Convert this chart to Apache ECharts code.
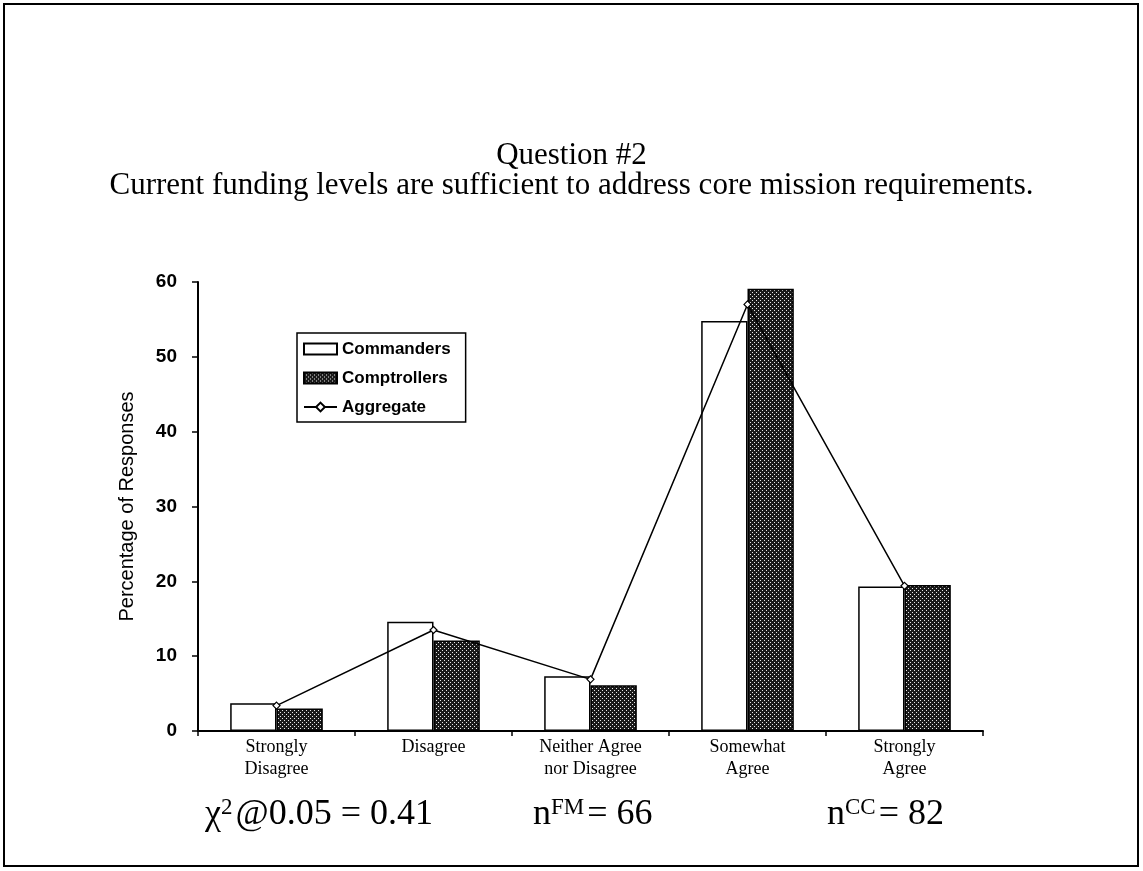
<!DOCTYPE html>
<html>
<head>
<meta charset="utf-8">
<script src="https://cdn.jsdelivr.net/npm/echarts@6/dist/echarts.min.js"></script>
<style>
  html, body { margin: 0; padding: 0; background: #fff; }
  #chart { width: 1143px; height: 871px; }
</style>
</head>
<body>
<div id="chart"></div>
<script>
const categories   = ['Strongly\nDisagree', 'Disagree', 'Neither Agree\nnor Disagree', 'Somewhat\nAgree', 'Strongly\nAgree']
const commanders   = [3.7, 14.6, 7.3, 54.8, 19.3]
const comptrollers = [3.0, 12.1, 6.1, 59.1, 19.5]
const aggregate    = [3.4, 13.5, 6.9, 57.0, 19.4]
const yTicks       = [0, 10, 20, 30, 40, 50, 60]

// dotted dark fill for the comptrollers bars
function makePattern() {
  const c = document.createElement('canvas')
  c.width = 4; c.height = 4
  const ctx = c.getContext('2d')
  ctx.fillStyle = '#1a1a1a'
  ctx.fillRect(0, 0, 4, 4)
  ctx.fillStyle = '#e8e8e8'
  ctx.fillRect(0, 0, 1, 1)
  ctx.fillRect(2, 2, 1, 1)
  return c
}
const pattern = { image: makePattern(), repeat: 'repeat' }

const serif = 'Liberation Serif, Times New Roman, serif'
const sans  = 'Liberation Sans, Arial, sans-serif'
const stat = {
  t: { fontFamily: serif, fontSize: 36, lineHeight: 40, fill: '#000' },
  s: { fontFamily: serif, fontSize: 23, lineHeight: 23, fill: '#000', verticalAlign: 'top', padding: [1, 3, 0, 0] }
}

const chart = echarts.init(document.getElementById('chart'))

const option = {
  animation: false,
  backgroundColor: '#fff',
  title: {
    text: 'Question #2\nCurrent funding levels are sufficient to address core mission requirements.',
    left: 'center',
    top: 136,
    textStyle: {
      fontFamily: serif,
      fontWeight: 'normal',
      fontSize: 31,
      lineHeight: 30,
      color: '#000'
    }
  },
  grid: { left: 198, right: 160, top: 282, bottom: 140 },
  legend: {
    orient: 'vertical',
    left: 297,
    top: 333,
    padding: [7, 15, 6, 6],
    borderColor: '#000',
    borderWidth: 1.5,
    itemWidth: 33,
    itemHeight: 11,
    itemGap: 11,
    data: [
      { name: 'Commanders', icon: 'rect' },
      { name: 'Comptrollers', icon: 'rect' },
      { name: 'Aggregate' }
    ],
    textStyle: {
      fontFamily: sans,
      fontWeight: 'bold',
      fontSize: 17,
      lineHeight: 18,
      color: '#000'
    }
  },
  xAxis: {
    type: 'category',
    data: categories,
    axisLine: { lineStyle: { color: '#000', width: 2 } },
    axisTick: { show: true, length: 5, lineStyle: { color: '#000', width: 1.5 } },
    axisLabel: {
      margin: 5,
      fontFamily: serif,
      fontSize: 18,
      lineHeight: 22,
      color: '#000'
    }
  },
  yAxis: {
    type: 'value',
    min: 0,
    max: 60,
    interval: 10,
    name: 'Percentage of Responses',
    nameLocation: 'center',
    nameGap: 61,
    nameTextStyle: {
      fontFamily: sans,
      fontSize: 20,
      color: '#000'
    },
    splitLine: { show: false },
    axisLine: { show: true, lineStyle: { color: '#000', width: 2 } },
    axisTick: { show: true, length: 6, lineStyle: { color: '#000', width: 1.5 } },
    axisLabel: {
      margin: 21,
      fontFamily: sans,
      fontWeight: 'bold',
      fontSize: 19,
      color: '#000',
      formatter: v => yTicks.includes(v) ? String(v) : ''
    }
  },
  series: [
    {
      name: 'Commanders',
      type: 'bar',
      data: commanders,
      barGap: '0%',
      barCategoryGap: '41%',
      itemStyle: { color: '#fff', borderColor: '#000', borderWidth: 1.5 }
    },
    {
      name: 'Comptrollers',
      type: 'bar',
      data: comptrollers,
      itemStyle: { color: pattern, borderColor: '#000', borderWidth: 1.5 }
    },
    {
      name: 'Aggregate',
      type: 'line',
      data: aggregate,
      symbol: 'diamond',
      symbolSize: 7,
      z: 5,
      lineStyle: { color: '#000', width: 1.5 },
      itemStyle: { color: '#fff', borderColor: '#000', borderWidth: 1.2 }
    }
  ],
  graphic: [
    {
      type: 'rect',
      shape: { x: 4, y: 4, width: 1134, height: 862 },
      style: { fill: 'none', stroke: '#000', lineWidth: 2 },
      silent: true
    },
    {
      type: 'text',
      style: { x: 205, y: 815, verticalAlign: 'middle', text: '{t|χ}{s|2}{t|@0.05 = 0.41}', rich: stat }
    },
    {
      type: 'text',
      style: { x: 533, y: 815, verticalAlign: 'middle', text: '{t|n}{s|FM}{t|= 66}', rich: stat }
    },
    {
      type: 'text',
      style: { x: 827, y: 815, verticalAlign: 'middle', text: '{t|n}{s|CC}{t|= 82}', rich: stat }
    }
  ]
}

chart.setOption(option)
</script>
</body>
</html>
